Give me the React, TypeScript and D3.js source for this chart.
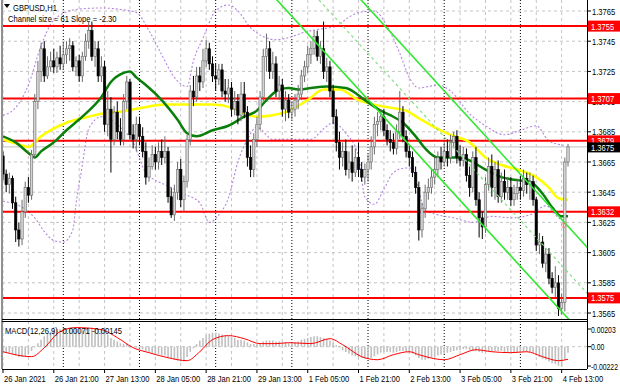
import React, { useRef, useEffect } from "react";
import * as d3 from "d3";

const W = 620;
const H = 388;

// right axis ticks and horizontal levels
const priceTicks = [1.3765, 1.3745, 1.3725, 1.3705, 1.3685, 1.3665, 1.3645, 1.3625, 1.3605, 1.3585, 1.3565];
const levels = [1.3755, 1.3707, 1.3679, 1.3632, 1.3575];
const lastPrice = 1.3675;

// time axis
const timeLabels = [
  "26 Jan 2021", "26 Jan 21:00", "27 Jan 13:00", "28 Jan 05:00", "28 Jan 21:00", "29 Jan 13:00",
  "1 Feb 05:00", "1 Feb 21:00", "2 Feb 13:00", "3 Feb 05:00", "3 Feb 21:00", "4 Feb 13:00",
];
const timeLabelBars = [0, 16, 32, 48, 64, 80, 96, 112, 128, 144, 160, 176];
const gridBars = d3.range(0, 179, 8);
const daySeparatorBars = [19, 43, 67, 91, 115, 139, 163];

// H1 candles, 26 Jan 05:00 .. 4 Feb 15:00
const firstOpen = 1.3669;
const highs = [
  1.3672, 1.3660, 1.3658, 1.3656, 1.3642, 1.3625, 1.3640, 1.3652, 1.3655, 1.3673,
  1.3710, 1.3732, 1.3744, 1.3745, 1.3735, 1.3738, 1.3740, 1.3738, 1.3742, 1.3744,
  1.3745, 1.3747, 1.3745, 1.3735, 1.3736, 1.3738, 1.3750, 1.3758, 1.3758, 1.3745,
  1.3745, 1.3735, 1.3732, 1.3712, 1.3708, 1.3702, 1.3705, 1.3694, 1.3710, 1.3722,
  1.3720, 1.3690, 1.3695, 1.3695, 1.3688, 1.3678, 1.3668, 1.3676, 1.3675, 1.3678,
  1.3680, 1.3682, 1.3675, 1.3648, 1.3650, 1.3665, 1.3667, 1.3656, 1.3683, 1.3716,
  1.3722, 1.3728, 1.3728, 1.3740, 1.3746, 1.3744, 1.3735, 1.3730, 1.3730, 1.3730,
  1.3720, 1.3720, 1.3718, 1.3712, 1.3710, 1.3718, 1.3718, 1.3702, 1.3676, 1.3684,
  1.3695, 1.3712, 1.3740, 1.3750, 1.3745, 1.3738, 1.3735, 1.3722, 1.3720, 1.3712,
  1.3710, 1.3705, 1.3710, 1.3716, 1.3726, 1.3732, 1.3742, 1.3745, 1.3752, 1.3752,
  1.3745, 1.3758, 1.3734, 1.3732, 1.3716, 1.3700, 1.3685, 1.3678, 1.3680, 1.3672,
  1.3676, 1.3674, 1.3678, 1.3665, 1.3664, 1.3670, 1.3682, 1.3695, 1.3698, 1.3700,
  1.3700, 1.3690, 1.3686, 1.3684, 1.3690, 1.3712, 1.3702, 1.3686, 1.3676, 1.3672,
  1.3662, 1.3652, 1.3638, 1.3650, 1.3654, 1.3660, 1.3668, 1.3672, 1.3675, 1.3678,
  1.3680, 1.3683, 1.3685, 1.3686, 1.3676, 1.3675, 1.3674, 1.3662, 1.3672, 1.3675,
  1.3645, 1.3632, 1.3655, 1.3668, 1.3670, 1.3665, 1.3666, 1.3658, 1.3660, 1.3655,
  1.3655, 1.3650, 1.3654, 1.3656, 1.3660, 1.3658, 1.3658, 1.3656, 1.3642, 1.3618,
  1.3616, 1.3608, 1.3608, 1.3592, 1.3596, 1.3590, 1.3578, 1.3668, 1.3677,
];
const lows = [
  1.3653, 1.3645, 1.3644, 1.3634, 1.3612, 1.3609, 1.3610, 1.3628, 1.3638, 1.3640,
  1.3668, 1.3700, 1.3718, 1.3718, 1.3720, 1.3725, 1.3724, 1.3724, 1.3726, 1.3726,
  1.3730, 1.3732, 1.3725, 1.3722, 1.3718, 1.3718, 1.3732, 1.3740, 1.3732, 1.3728,
  1.3718, 1.3718, 1.3685, 1.3682, 1.3658, 1.3676, 1.3680, 1.3676, 1.3676, 1.3700,
  1.3680, 1.3674, 1.3672, 1.3676, 1.3668, 1.3650, 1.3652, 1.3660, 1.3660, 1.3660,
  1.3663, 1.3664, 1.3638, 1.3628, 1.3626, 1.3640, 1.3635, 1.3632, 1.3648, 1.3676,
  1.3702, 1.3705, 1.3712, 1.3714, 1.3728, 1.3726, 1.3718, 1.3712, 1.3716, 1.3708,
  1.3705, 1.3704, 1.3695, 1.3696, 1.3690, 1.3692, 1.3694, 1.3662, 1.3655, 1.3655,
  1.3675, 1.3686, 1.3705, 1.3725, 1.3720, 1.3720, 1.3708, 1.3706, 1.3695, 1.3692,
  1.3694, 1.3693, 1.3695, 1.3700, 1.3706, 1.3718, 1.3724, 1.3730, 1.3736, 1.3732,
  1.3730, 1.3720, 1.3718, 1.3708, 1.3690, 1.3672, 1.3660, 1.3662, 1.3656, 1.3654,
  1.3652, 1.3655, 1.3655, 1.3652, 1.3650, 1.3652, 1.3660, 1.3670, 1.3682, 1.3686,
  1.3682, 1.3676, 1.3672, 1.3670, 1.3670, 1.3680, 1.3678, 1.3668, 1.3662, 1.3655,
  1.3644, 1.3613, 1.3615, 1.3628, 1.3640, 1.3644, 1.3650, 1.3655, 1.3660, 1.3662,
  1.3662, 1.3664, 1.3674, 1.3664, 1.3662, 1.3662, 1.3652, 1.3642, 1.3645, 1.3636,
  1.3615, 1.3614, 1.3618, 1.3646, 1.3642, 1.3640, 1.3638, 1.3638, 1.3640, 1.3640,
  1.3636, 1.3636, 1.3640, 1.3640, 1.3642, 1.3644, 1.3640, 1.3636, 1.3606, 1.3604,
  1.3595, 1.3592, 1.3584, 1.3578, 1.3575, 1.3563, 1.3564, 1.3566, 1.3662,
];
const closes = [
  1.3657, 1.3650, 1.3654, 1.3638, 1.3620, 1.3614, 1.3632, 1.3648, 1.3643, 1.3670,
  1.3705, 1.3725, 1.3740, 1.3722, 1.3728, 1.3732, 1.3728, 1.3734, 1.3730, 1.3736,
  1.3740, 1.3742, 1.3728, 1.3732, 1.3722, 1.3735, 1.3745, 1.3752, 1.3735, 1.3740,
  1.3722, 1.3728, 1.3690, 1.3700, 1.3680, 1.3698, 1.3685, 1.3680, 1.3705, 1.3718,
  1.3683, 1.3680, 1.3690, 1.3682, 1.3672, 1.3655, 1.3662, 1.3670, 1.3665, 1.3672,
  1.3668, 1.3672, 1.3642, 1.3630, 1.3645, 1.3660, 1.3640, 1.3652, 1.3680, 1.3712,
  1.3708, 1.3722, 1.3718, 1.3732, 1.3740, 1.3730, 1.3722, 1.3720, 1.3726, 1.3712,
  1.3710, 1.3714, 1.3700, 1.3705, 1.3696, 1.3710, 1.3698, 1.3668, 1.3660, 1.3680,
  1.3690, 1.3708, 1.3735, 1.3740, 1.3725, 1.3730, 1.3712, 1.3716, 1.3700, 1.3706,
  1.3698, 1.3700, 1.3706, 1.3710, 1.3722, 1.3728, 1.3736, 1.3740, 1.3748, 1.3735,
  1.3740, 1.3725, 1.3728, 1.3712, 1.3695, 1.3678, 1.3668, 1.3672, 1.3660, 1.3665,
  1.3658, 1.3668, 1.3660, 1.3655, 1.3660, 1.3665, 1.3675, 1.3690, 1.3692, 1.3695,
  1.3686, 1.3680, 1.3678, 1.3674, 1.3685, 1.3698, 1.3682, 1.3672, 1.3668, 1.3658,
  1.3648, 1.3620, 1.3634, 1.3645, 1.3648, 1.3655, 1.3660, 1.3668, 1.3665, 1.3672,
  1.3668, 1.3678, 1.3682, 1.3668, 1.3666, 1.3670, 1.3656, 1.3648, 1.3668, 1.3640,
  1.3628, 1.3622, 1.3650, 1.3662, 1.3648, 1.3660, 1.3642, 1.3652, 1.3645, 1.3648,
  1.3640, 1.3644, 1.3648, 1.3646, 1.3654, 1.3650, 1.3652, 1.3640, 1.3610, 1.3612,
  1.3598, 1.3604, 1.3588, 1.3582, 1.3585, 1.3568, 1.3572, 1.3665, 1.3675,
];

// moving averages [bar, price]
const yellowMA: [number, number][] = [
  [0, 1.3680], [6, 1.3676], [8, 1.3675], [12, 1.3682], [20, 1.3691], [27, 1.3695],
  [31, 1.3697], [36, 1.3698], [44, 1.3701], [51, 1.3703], [60, 1.3703], [66, 1.3703],
  [72, 1.3701], [76, 1.3697], [80, 1.3695], [85, 1.3696], [89, 1.3698], [96, 1.3706],
  [101, 1.3713], [106, 1.3713], [112, 1.3706], [117, 1.3703], [122, 1.3701], [127, 1.3699],
  [131, 1.3694], [136, 1.3688], [141, 1.3683], [147, 1.3678], [152, 1.3668], [157, 1.3663],
  [162, 1.3660], [168, 1.3655], [172, 1.3648], [175, 1.3641], [178, 1.3640],
];
const greenMA: [number, number][] = [
  [0, 1.3682], [4, 1.3678], [8, 1.3671], [10, 1.3668], [12, 1.3672], [16, 1.3678],
  [20, 1.3686], [25, 1.3695], [31, 1.3708], [34, 1.3718], [38, 1.3724], [40, 1.3725],
  [42, 1.3721], [45, 1.3716], [50, 1.3706], [55, 1.3693], [58, 1.3684], [61, 1.3682],
  [66, 1.3686], [71, 1.3689], [76, 1.3695], [80, 1.3699], [83, 1.3706], [87, 1.3713],
  [90, 1.3714], [93, 1.3713], [97, 1.3714], [102, 1.3715], [108, 1.3714], [114, 1.3706],
  [119, 1.3699], [122, 1.3696], [126, 1.3691], [130, 1.3682], [133, 1.3674], [137, 1.3668],
  [144, 1.3668], [147, 1.3666], [152, 1.3660], [157, 1.3655], [162, 1.3653], [166, 1.3652],
  [170, 1.3644], [173, 1.3635], [176, 1.3629], [178, 1.3629],
];
const bandUpper: [number, number][] = [
  [0, 1.3696], [4, 1.3701], [8, 1.3716], [12, 1.3742], [16, 1.3759], [23, 1.3766],
  [31, 1.3767], [37, 1.3766], [42, 1.3764], [46, 1.3752], [50, 1.3736], [54, 1.3721],
  [58, 1.3715], [60, 1.3732], [63, 1.3747], [67, 1.3765], [71, 1.3769], [74, 1.3765],
  [78, 1.3754], [82, 1.3748], [86, 1.3746], [91, 1.3748], [95, 1.3751], [100, 1.3753],
  [105, 1.3755], [109, 1.3761], [112, 1.3764], [117, 1.3765], [121, 1.3755], [125, 1.3737],
  [128, 1.3721], [131, 1.3714], [134, 1.3715], [137, 1.3716], [141, 1.3712], [147, 1.3697],
  [152, 1.3689], [158, 1.3683], [163, 1.3686], [168, 1.3689], [172, 1.3679], [177, 1.3676],
];
const bandLower: [number, number][] = [
  [0, 1.3639], [6, 1.3635], [10, 1.3628], [13, 1.3619], [16, 1.3613], [19, 1.3612],
  [22, 1.3620], [23, 1.3637], [25, 1.3663], [27, 1.3687], [31, 1.3695], [37, 1.3688],
  [41, 1.3678], [45, 1.3658], [52, 1.3649], [58, 1.3643], [62, 1.3638], [65, 1.3625],
  [68, 1.3630], [71, 1.3641], [74, 1.3665], [77, 1.3680], [80, 1.3688], [85, 1.3680],
  [91, 1.3680], [97, 1.3680], [101, 1.3687], [104, 1.3691], [108, 1.3684], [112, 1.3669],
  [114, 1.3642], [117, 1.3637], [120, 1.3647], [123, 1.3658], [127, 1.3661], [129, 1.3661],
  [131, 1.3646], [133, 1.3633], [137, 1.3630], [142, 1.3628], [148, 1.3625], [154, 1.3629],
  [160, 1.3628], [166, 1.3630], [171, 1.3636], [175, 1.3628], [177, 1.3625],
];

// regression channel: lower line anchor, slope per bar, channel size
const channelBar = 136;
const channelLow = 1.3658;
const channelSlope = -0.00023;
const channelSize = 0.0061;

// MACD(12,26,9)
const macdHist = [
  -0.0006, -0.0007, -0.0007, -0.0008, -0.0010, -0.0012, -0.0012, -0.0011, -0.0009, -0.0005,
  -0.0001, 0.0004, 0.0008, 0.0012, 0.0015, 0.0017, 0.0019, 0.0020, 0.0020, 0.0021,
  0.0021, 0.0022, 0.0021, 0.0020, 0.0020, 0.0020, 0.0021, 0.0022, 0.0022, 0.0021,
  0.0020, 0.0019, 0.0018, 0.0014, 0.0010, 0.0008, 0.0006, 0.0004, 0.0003, 0.0003,
  0.0002, 0.0000, -0.0001, -0.0002, -0.0003, -0.0005, -0.0006, -0.0007, -0.0008, -0.0009,
  -0.0010, -0.0010, -0.0012, -0.0014, -0.0015, -0.0016, -0.0017, -0.0017, -0.0012, -0.0006,
  -0.0002, 0.0003, 0.0007, 0.0010, 0.0013, 0.0015, 0.0016, 0.0016, 0.0015, 0.0014,
  0.0013, 0.0012, 0.0011, 0.0010, 0.0008, 0.0008, 0.0007, 0.0005, 0.0003, 0.0003,
  0.0003, 0.0004, 0.0006, 0.0007, 0.0007, 0.0007, 0.0006, 0.0006, 0.0005, 0.0005,
  0.0004, 0.0004, 0.0005, 0.0006, 0.0008, 0.0009, 0.0010, 0.0011, 0.0012, 0.0012,
  0.0011, 0.0010, 0.0009, 0.0007, 0.0005, 0.0002, -0.0001, -0.0004, -0.0006, -0.0008,
  -0.0010, -0.0011, -0.0012, -0.0013, -0.0014, -0.0014, -0.0013, -0.0011, -0.0009, -0.0007,
  -0.0006, -0.0006, -0.0006, -0.0007, -0.0006, -0.0005, -0.0005, -0.0006, -0.0007, -0.0008,
  -0.0010, -0.0013, -0.0015, -0.0015, -0.0014, -0.0013, -0.0012, -0.0010, -0.0009, -0.0008,
  -0.0007, -0.0006, -0.0005, -0.0004, -0.0004, -0.0003, -0.0003, -0.0004, -0.0004, -0.0005,
  -0.0006, -0.0007, -0.0006, -0.0005, -0.0005, -0.0005, -0.0005, -0.0005, -0.0006, -0.0006,
  -0.0006, -0.0007, -0.0007, -0.0007, -0.0006, -0.0006, -0.0006, -0.0007, -0.0010, -0.0012,
  -0.0014, -0.0015, -0.0017, -0.0019, -0.0020, -0.0022, -0.0023, -0.0015, -0.00071,
];
const macdSignal: [number, number][] = [
  [0, -0.00058], [9, -0.00115], [13, -0.00012], [18, 0.00173], [23, 0.00219], [31, 0.00196],
  [36, 0.00104], [41, -0.00012], [46, -0.00069], [52, -0.00127], [58, -0.00161], [62, -0.00058],
  [66, 0.00081], [71, 0.00127], [76, 0.00092], [81, 0.00035], [86, 0.00035], [90, 0.00046],
  [97, 0.00035], [103, 0.00092], [107, 0.00023], [113, -0.00115], [118, -0.0015], [123, -0.00092],
  [128, -0.00058], [131, -0.00092], [139, -0.0015], [144, -0.00092], [149, -0.00035], [154, -0.00058],
  [160, -0.00069], [165, -0.00058], [170, -0.00115], [175, -0.00161], [178, -0.00145],
];
const macdTicks = [0.00203, 0, -0.00222];
const macdTickLabels = ["0.00203", "0.00", "-0.00222"];

const FONT = "Liberation Sans, Arial, sans-serif";

const App = () => {
  const svgRef = useRef<SVGSVGElement>(null);

  useEffect(() => {
    const svg = d3.select(svgRef.current);
    svg.selectAll("*").remove();

    const left = 2, right = 587;
    const mainTop = 0, mainBottom = 319;
    const macdTop = 321, macdBottom = 369;

    const x = d3.scaleLinear().domain([0, 178]).range([3, 568]);
    const y = d3.scaleLinear().domain([1.3565, 1.3765]).range([313, 11]);
    const ym = d3.scaleLinear().domain([-0.00222, 0.00203]).range([366, 329]);

    const opens = closes.map((c, i) => (i === 0 ? firstOpen : closes[i - 1]));

    svg.append("rect").attr("width", W).attr("height", H).attr("fill", "#fff");

    const defs = svg.append("defs");
    defs.append("clipPath").attr("id", "clipMain")
      .append("rect").attr("x", left).attr("y", mainTop).attr("width", right - left).attr("height", mainBottom - mainTop);
    defs.append("clipPath").attr("id", "clipMacd")
      .append("rect").attr("x", left).attr("y", macdTop).attr("width", right - left).attr("height", macdBottom - macdTop);

    // squeezed text, like the terminal font
    const label = (g: any, tx: number, ty: number, s: string, fill = "#000", size = 9.5, sx = 0.8) =>
      g.append("text")
        .attr("transform", `translate(${tx},${ty}) scale(${sx},1)`)
        .attr("font-family", FONT)
        .attr("font-size", size)
        .attr("fill", fill)
        .text(s);

    // grid
    const grid = svg.append("g");
    gridBars.forEach(b => {
      [[mainTop, mainBottom], [macdTop, macdBottom]].forEach(([a, z]) => {
        grid.append("line")
          .attr("x1", x(b)).attr("x2", x(b)).attr("y1", a).attr("y2", z)
          .attr("stroke", "#c4c4c4").attr("stroke-dasharray", "3,3");
      });
    });
    priceTicks.forEach(p => {
      grid.append("line")
        .attr("x1", left).attr("x2", right).attr("y1", y(p)).attr("y2", y(p))
        .attr("stroke", "#c4c4c4").attr("stroke-dasharray", "3,3");
    });
    grid.append("line")
      .attr("x1", left).attr("x2", right).attr("y1", ym(0)).attr("y2", ym(0))
      .attr("stroke", "#c4c4c4").attr("stroke-dasharray", "3,3");
    daySeparatorBars.forEach(b => {
      [[mainTop, mainBottom], [macdTop, macdBottom]].forEach(([a, z]) => {
        grid.append("line")
          .attr("x1", x(b)).attr("x2", x(b)).attr("y1", a).attr("y2", z)
          .attr("stroke", "#000").attr("stroke-dasharray", "1,2");
      });
    });

    const main = svg.append("g").attr("clip-path", "url(#clipMain)");

    // bid line
    main.append("line")
      .attr("x1", left).attr("x2", right).attr("y1", y(lastPrice)).attr("y2", y(lastPrice))
      .attr("stroke", "#c0c0c0");

    // envelopes
    const line = d3.line<[number, number]>().x(d => x(d[0])).y(d => y(d[1])).curve(d3.curveMonotoneX);
    [bandUpper, bandLower].forEach(band => {
      main.append("path").datum(band)
        .attr("fill", "none").attr("stroke", "#b584e0").attr("stroke-width", 1.1)
        .attr("stroke-dasharray", "2,2").attr("d", line);
    });

    // red levels
    levels.forEach(p => {
      main.append("line")
        .attr("x1", left).attr("x2", right).attr("y1", y(p)).attr("y2", y(p))
        .attr("stroke", "#ff0000").attr("stroke-width", 2);
    });

    // moving averages
    main.append("path").datum(yellowMA)
      .attr("fill", "none").attr("stroke", "#ffff00").attr("stroke-width", 2.5).attr("d", line);
    main.append("path").datum(greenMA)
      .attr("fill", "none").attr("stroke", "#0a800a").attr("stroke-width", 2.5).attr("d", line);

    // candles
    const cw = 2.4;
    closes.forEach((c, i) => {
      const o = opens[i];
      const up = c >= o;
      const hi = Math.max(highs[i], o, c);
      const lo = Math.min(lows[i], o, c);
      main.append("line")
        .attr("x1", x(i)).attr("x2", x(i)).attr("y1", y(hi)).attr("y2", y(lo))
        .attr("stroke", up ? "#6a6a6a" : "#000").attr("stroke-width", 1);
      const top = y(Math.max(o, c));
      const h = Math.max(1, y(Math.min(o, c)) - top);
      main.append("rect")
        .attr("x", x(i) - cw / 2).attr("y", top).attr("width", cw).attr("height", h)
        .attr("fill", up ? "#d4d4d4" : "#000")
        .attr("stroke", up ? "#6a6a6a" : "#000").attr("stroke-width", 0.6);
    });

    // channel
    const chan = (off: number, b: number) => channelLow + off + channelSlope * (b - channelBar);
    [
      { off: channelSize, color: "#2ee82e", dash: null, w: 1.6 },
      { off: channelSize / 2, color: "#85e085", dash: "3,3", w: 1.2 },
      { off: 0, color: "#2ee82e", dash: null, w: 1.6 },
    ].forEach(ch => {
      main.append("line")
        .attr("x1", x(60)).attr("y1", y(chan(ch.off, 60)))
        .attr("x2", x(200)).attr("y2", y(chan(ch.off, 200)))
        .attr("stroke", ch.color).attr("stroke-width", ch.w)
        .attr("stroke-dasharray", ch.dash);
    });

    main.append("circle")
      .attr("cx", x(177) - 1).attr("cy", y(1.3623)).attr("r", 2.2)
      .attr("fill", "none").attr("stroke", "#ff7070").attr("stroke-width", 0.8);

    // MACD
    const macd = svg.append("g").attr("clip-path", "url(#clipMacd)");
    macdHist.forEach((v, i) => {
      macd.append("line")
        .attr("x1", x(i)).attr("x2", x(i)).attr("y1", ym(0)).attr("y2", ym(v))
        .attr("stroke", "#c0c0c0").attr("stroke-width", 1.6);
    });
    const sigLine = d3.line<[number, number]>().x(d => x(d[0])).y(d => ym(d[1])).curve(d3.curveMonotoneX);
    macd.append("path").datum(macdSignal)
      .attr("fill", "none").attr("stroke", "#ff0000").attr("stroke-width", 1).attr("d", sigLine);

    // frames
    const frame = svg.append("g").attr("stroke", "#000").attr("fill", "none");
    frame.append("line").attr("x1", left).attr("x2", left).attr("y1", 0).attr("y2", macdBottom).attr("stroke", "#909090").attr("stroke-width", 2);
    frame.append("line").attr("x1", right + 0.5).attr("x2", right + 0.5).attr("y1", 0).attr("y2", macdBottom);
    frame.append("line").attr("x1", left).attr("x2", right).attr("y1", mainBottom + 0.5).attr("y2", mainBottom + 0.5);
    frame.append("line").attr("x1", left).attr("x2", right).attr("y1", macdTop + 0.5).attr("y2", macdTop + 0.5);
    frame.append("line").attr("x1", left).attr("x2", right).attr("y1", macdBottom + 0.5).attr("y2", macdBottom + 0.5);

    // price axis
    const axis = svg.append("g");
    priceTicks.forEach(p => {
      axis.append("line").attr("x1", right).attr("x2", right + 4).attr("y1", y(p)).attr("y2", y(p)).attr("stroke", "#000");
      label(axis, 592, y(p) + 3.5, d3.format(".4f")(p));
    });
    macdTicks.forEach((v, i) => {
      axis.append("line").attr("x1", right).attr("x2", right + 4).attr("y1", ym(v)).attr("y2", ym(v)).attr("stroke", "#000");
      label(axis, 591, ym(v) + 3.5, macdTickLabels[i], "#000", 9, 0.76);
    });
    levels.forEach(p => {
      axis.append("rect").attr("x", 588).attr("y", y(p) - 5.5).attr("width", 32).attr("height", 11).attr("fill", "#ff0000");
      label(axis, 591, y(p) + 3.5, d3.format(".4f")(p), "#fff");
    });
    axis.append("rect").attr("x", 588).attr("y", y(lastPrice) - 4.5).attr("width", 32).attr("height", 10).attr("fill", "#000");
    label(axis, 591, y(lastPrice) + 4, d3.format(".4f")(lastPrice), "#fff");

    // time axis
    timeLabelBars.forEach((b, i) => {
      axis.append("line").attr("x1", x(b)).attr("x2", x(b)).attr("y1", macdBottom).attr("y2", macdBottom + 4).attr("stroke", "#000");
      label(axis, x(b) + 1, 382, timeLabels[i]);
    });

    // titles
    axis.append("path").attr("d", "M4,4 L10,4 L7,8 Z").attr("fill", "#000");
    label(axis, 13, 11, "GBPUSD,H1");
    label(axis, 8, 22, "Channel size = 61 Slope = -2.30");
    label(axis, 5, 334, "MACD(12,26,9) -0.00071 -0.00145");
  }, []);

  return (
    <svg
      ref={svgRef}
      width={W}
      height={H}
      style={{ position: "absolute", left: 0, top: 0 }}
    ></svg>
  );
};

export default App;
